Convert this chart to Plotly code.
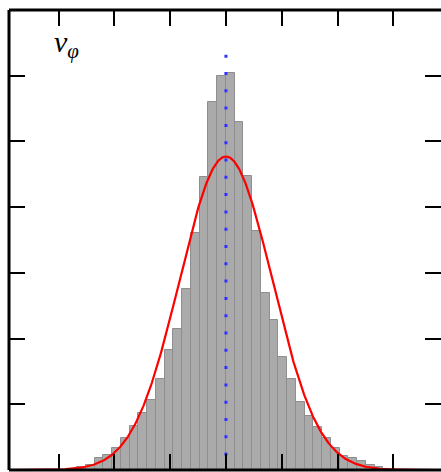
import numpy as np
import plotly.graph_objects as go

# Histogram of v_phi: bin heights (normalised units), bins of equal width
bin_width = 7.84
first_edge = -18 * bin_width
heights = [0.02, 0.04, 0.08, 0.18, 0.23, 0.34, 0.49, 0.67, 0.87, 1.06,
           1.38, 1.82, 2.14, 2.76, 3.61, 4.46, 5.60, 5.99, 6.04, 5.30,
           4.47, 3.64, 2.69, 2.28, 1.72, 1.39, 1.04, 0.82, 0.66, 0.48,
           0.34, 0.21, 0.19, 0.13, 0.08, 0.05]

# Gaussian fit parameters
fit_mean = 0.0
fit_sigma = 41.5
fit_amp = 4.77

# Reference (mean) marker
ref_x = 0.0
ref_top = 6.32

x_ticks = [-150, -100, -50, 0, 50, 100, 150]
y_ticks = [1, 2, 3, 4, 5, 6]
x_range = [-194.4, 192.7]
y_range = [0, 7]

centers = [first_edge + bin_width * (i + 0.5) for i in range(len(heights))]

fig = go.Figure()
fig.add_trace(go.Bar(
    x=centers, y=heights, width=bin_width,
    marker=dict(color="#aaaaaa", line=dict(color="#8e8e8e", width=1)),
    showlegend=False,
))

xs = np.linspace(x_range[0], x_range[1], 600)
ys = fit_amp * np.exp(-0.5 * ((xs - fit_mean) / fit_sigma) ** 2)
fig.add_trace(go.Scatter(
    x=xs, y=ys, mode="lines",
    line=dict(color="#ff0000", width=2.2),
    showlegend=False,
))

fig.add_trace(go.Scatter(
    x=[ref_x, ref_x], y=[ref_top, 0], mode="lines",
    line=dict(color="#3030ff", width=3, dash="3px,14.3px"),
    showlegend=False,
))

axis_common = dict(
    showgrid=False, zeroline=False, showline=False,
    ticks="inside", ticklen=16, tickwidth=2, tickcolor="black",
    showticklabels=False, mirror="ticks",
)
fig.update_xaxes(range=x_range, tickvals=x_ticks, **axis_common)
fig.update_yaxes(range=y_range, tickvals=y_ticks, **axis_common)

frame = dict(color="black", width=3)
fig.add_shape(type="line", xref="paper", yref="paper", x0=0, x1=0, y0=0, y1=1,
              line=frame, layer="above")
fig.add_shape(type="line", xref="paper", yref="paper", x0=0, x1=1.01, y0=1, y1=1,
              line=frame, layer="above")
fig.add_shape(type="line", xref="paper", yref="paper", x0=0, x1=1.01, y0=0, y1=0,
              line=frame, layer="above")

fig.add_annotation(
    xref="paper", yref="paper", x=(52 - 9) / 432, y=1 - (23 - 10) / 460,
    xanchor="left", yanchor="top", showarrow=False,
    text="<i>v</i><sub><i>φ</i></sub>",
    font=dict(family="Liberation Serif", size=30, color="black"),
)

fig.update_layout(
    width=441, height=472,
    margin=dict(l=9, r=0, t=10, b=2),
    paper_bgcolor="white", plot_bgcolor="white",
    bargap=0,
)

fig.write_html("out.html")
